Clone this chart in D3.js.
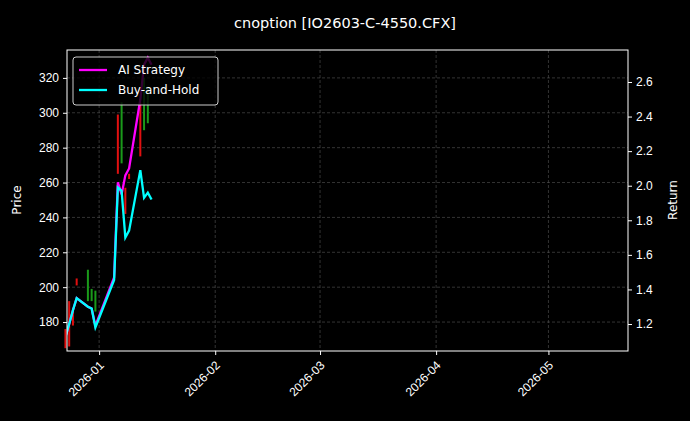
<!DOCTYPE html>
<html><head><meta charset="utf-8">
<script src="https://cdn.jsdelivr.net/npm/d3@7"></script>
<style>body{margin:0;background:#000}svg{font-family:"DejaVu Sans",sans-serif}</style>
</head><body><svg id="chart" width="690" height="421"></svg>
<script>
// candles: date, open, close
const candleDates = ["2025-12-23","2025-12-24","2025-12-25","2025-12-26","2025-12-29","2025-12-30","2025-12-31",
  "2026-01-06","2026-01-07","2026-01-08","2026-01-09","2026-01-12","2026-01-13","2026-01-14"];
const opens  = [176,192,188,205,192,192,186,299,271,257,265,306,290,294];
const closes = [165,166,178,201,210,199,198,265,306,242,262,275,320,315];

const retDates = ["2025-12-23","2025-12-24","2025-12-25","2025-12-26","2025-12-29","2025-12-30","2025-12-31",
  "2026-01-05","2026-01-06","2026-01-07","2026-01-08","2026-01-09","2026-01-12","2026-01-13","2026-01-14","2026-01-15"];
const strategy = [1.125,1.20,1.28,1.35,1.30,1.29,1.19,1.47,2.02,1.95,2.06,2.10,2.50,2.70,2.74,2.70];
const buyHold  = [1.125,1.20,1.28,1.35,1.30,1.29,1.18,1.455,1.99,1.97,1.70,1.74,2.09,1.93,1.96,1.92];

const priceTicks = [180,200,220,240,260,280,300,320];
const returnTicks = [1.2,1.4,1.6,1.8,2.0,2.2,2.4,2.6];
const monthTicks = ["2026-01-01","2026-02-01","2026-03-01","2026-04-01","2026-05-01"];

const parse = d3.timeParse("%Y-%m-%d");
const svg = d3.select("#chart");
const m = {l:67, r:628, t:50, b:351};

const x = d3.scaleTime().domain([new Date(2025,11,23,10), new Date(2026,4,22,6)]).range([m.l, m.r]);
const yP = d3.scaleLinear().domain([163.4, 336]).range([m.b, m.t]);
const yR = d3.scaleLinear().domain([1.044, 2.785]).range([m.b, m.t]);

svg.append("rect").attr("width",690).attr("height",421).attr("fill","#000");

// grid
const grid = svg.append("g").attr("stroke","#555").attr("stroke-width",0.6).attr("stroke-dasharray","3,2");
grid.selectAll(".gx").data(monthTicks).join("line")
  .attr("x1",d=>x(parse(d))).attr("x2",d=>x(parse(d))).attr("y1",m.t).attr("y2",m.b);
grid.selectAll(".gy").data(priceTicks).join("line")
  .attr("x1",m.l).attr("x2",m.r).attr("y1",d=>yP(d)).attr("y2",d=>yP(d));

// candles
const candles = candleDates.map((d,i)=>({date:parse(d), o:opens[i], c:closes[i]}));
svg.append("g").selectAll("rect").data(candles).join("rect")
  .attr("x",d=>x(d.date)-1).attr("width",2)
  .attr("y",d=>yP(Math.max(d.o,d.c))).attr("height",d=>Math.abs(yP(d.o)-yP(d.c)))
  .attr("fill",d=>d.c>=d.o?"#1a9a1a":"#e01010");

// lines
const line = (vals)=>d3.line().x((d,i)=>x(parse(retDates[i]))).y(d=>yR(d))(vals);
svg.append("clipPath").attr("id","clip").append("rect")
  .attr("x",m.l).attr("y",m.t).attr("width",m.r-m.l).attr("height",m.b-m.t);
svg.append("path").attr("d",line(strategy)).attr("fill","none").attr("stroke","#ff00ff").attr("stroke-width",2.3).attr("clip-path","url(#clip)");
svg.append("path").attr("d",line(buyHold)).attr("fill","none").attr("stroke","#00ffff").attr("stroke-width",2.3).attr("clip-path","url(#clip)");

// frame
svg.append("rect").attr("x",m.l).attr("y",m.t).attr("width",m.r-m.l).attr("height",m.b-m.t)
  .attr("fill","none").attr("stroke","#fff").attr("stroke-width",1);

// axes
const styleAxis = g => { g.select(".domain").remove(); g.selectAll("line").attr("stroke","#fff"); g.selectAll("text").attr("fill","#fff").attr("font-size",12); };
svg.append("g").attr("transform",`translate(${m.l},0)`)
  .call(d3.axisLeft(yP).tickValues(priceTicks).tickSize(4).tickPadding(4)).call(styleAxis);
svg.append("g").attr("transform",`translate(${m.r},0)`)
  .call(d3.axisRight(yR).tickValues(returnTicks).tickFormat(d3.format(".1f")).tickSize(4).tickPadding(4)).call(styleAxis);
const xa = svg.append("g").attr("transform",`translate(0,${m.b})`)
  .call(d3.axisBottom(x).tickValues(monthTicks.map(parse)).tickFormat(d3.timeFormat("%Y-%m")).tickSize(4)).call(styleAxis);
xa.selectAll("text").attr("text-anchor","end").attr("x",0).attr("y",0).attr("dy","0.35em")
  .attr("transform","translate(2,12) rotate(-45)");

svg.append("text").attr("x",345).attr("y",28).attr("text-anchor","middle").attr("fill","#fff").attr("font-size",14.5)
  .text("cnoption [IO2603-C-4550.CFX]");
svg.append("text").attr("transform","translate(21,200) rotate(-90)").attr("text-anchor","middle").attr("fill","#fff").attr("font-size",12).text("Price");
svg.append("text").attr("transform","translate(677,200) rotate(-90)").attr("text-anchor","middle").attr("fill","#fff").attr("font-size",12).text("Return");

// legend
const lg = svg.append("g").attr("transform","translate(73,57)");
lg.append("rect").attr("width",145).attr("height",48).attr("rx",3).attr("fill","#000").attr("fill-opacity",0.8).attr("stroke","#ccc");
[["AI Strategy","#ff00ff"],["Buy-and-Hold","#00ffff"]].forEach(([t,c],i)=>{
  lg.append("line").attr("x1",6).attr("x2",34).attr("y1",13+i*20).attr("y2",13+i*20).attr("stroke",c).attr("stroke-width",2.3);
  lg.append("text").attr("x",45).attr("y",17+i*20).attr("fill","#fff").attr("font-size",12).text(t);
});
</script></body></html>
